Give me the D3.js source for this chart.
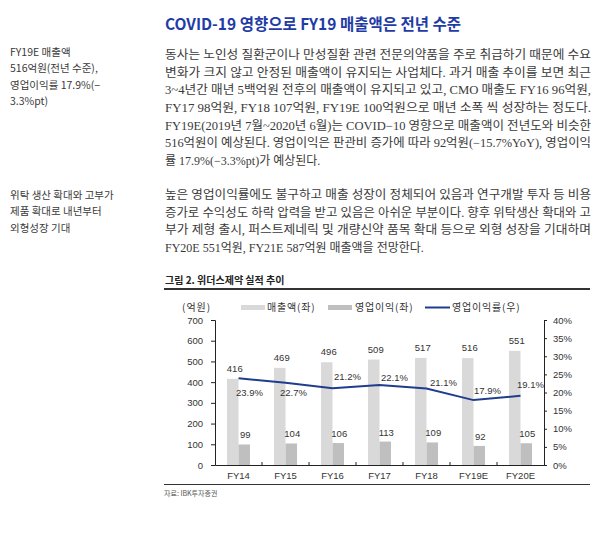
<!DOCTYPE html>
<html><head><meta charset="utf-8">
<script src="https://cdn.jsdelivr.net/npm/d3@7"></script>
<style>
html,body{margin:0;padding:0;background:#fff;}
svg{display:block;}
</style></head>
<body>
<script>
const categories = ["FY14","FY15","FY16","FY17","FY18","FY19E","FY20E"];
const revenue = [416,469,496,509,517,516,551];
const opIncome = [99,104,106,113,109,92,105];
const opMargin = [23.9,22.7,21.2,22.1,21.1,17.9,19.1];
const leftTicks = [0,100,200,300,400,500,600,700];
const rightTicks = [0,5,10,15,20,25,30,35,40];
const legendLabels = ["매출액(좌)","영업이익(좌)","영업이익률(우)"];

const headline = "COVID-19 영향으로 FY19 매출액은 전년 수준";
const sideNote1 = ["FY19E 매출액","516억원(전년 수준),","영업이익률 17.9%(−","3.3%pt)"];
const sideNote2 = ["위탁 생산 확대와 고부가","제품 확대로 내년부터","외형성장 기대"];
const para1 = [
 "동사는 노인성 질환군이나 만성질환 관련 전문의약품을 주로 취급하기 때문에 수요",
 "변화가 크지 않고 안정된 매출액이 유지되는 사업체다. 과거 매출 추이를 보면 최근",
 "3~4년간 매년 5백억원 전후의 매출액이 유지되고 있고, CMO 매출도 FY16 96억원,",
 "FY17 98억원, FY18 107억원, FY19E 100억원으로 매년 소폭 씩 성장하는 정도다.",
 "FY19E(2019년 7월~2020년 6월)는 COVID−10 영향으로 매출액이 전년도와 비슷한",
 "516억원이 예상된다. 영업이익은 판관비 증가에 따라 92억원(−15.7%YoY), 영업이익",
 "률 17.9%(−3.3%pt)가 예상된다."
];
const para2 = [
 "높은 영업이익률에도 불구하고 매출 성장이 정체되어 있음과 연구개발 투자 등 비용",
 "증가로 수익성도 하락 압력을 받고 있음은 아쉬운 부분이다. 향후 위탁생산 확대와 고",
 "부가 제형 출시, 퍼스트제네릭 및 개량신약 품목 확대 등으로 외형 성장을 기대하며",
 "FY20E 551억원, FY21E 587억원 매출액을 전망한다."
];
const chartTitle = "그림 2. 위더스제약 실적 추이";
const unitLabel = "(억원)";
const sourceLabel = "자료: IBK투자증권";

const W = 600, H = 542;
const svg = d3.select("body").append("svg").attr("width", W).attr("height", H);
const KR = "'Noto Sans CJK KR', sans-serif";
const BODY = "'Liberation Serif', 'Noto Sans CJK KR', serif";
const ARIAL = "'Liberation Sans', Arial, sans-serif";

// headline
svg.append("text").attr("x", 165).attr("y", 24).attr("dy", "0.35em")
  .attr("font-family", KR).attr("font-weight", "bold").attr("font-size", 16)
  .attr("fill", "#1f3ca6").attr("textLength", 296).attr("lengthAdjust", "spacingAndGlyphs")
  .text(headline);

// side notes
function sideBlock(lines, y0, step) {
  svg.append("g").selectAll("text").data(lines).join("text")
    .attr("x", 10).attr("y", (d, i) => y0 + i * step).attr("dy", "0.35em")
    .attr("font-family", KR).attr("font-size", 10.5).attr("fill", "#3a3a3a")
    .text(d => d);
}
sideBlock(sideNote1, 52, 16.5);
sideBlock(sideNote2, 195, 16.5);

// paragraphs (justified)
function para(lines, y0, step) {
  svg.append("g").selectAll("text").data(lines).join("text")
    .attr("x", 165).attr("y", (d, i) => y0 + i * step).attr("dy", "0.35em")
    .attr("font-family", BODY).attr("font-size", 12).attr("fill", "#3a3a3a")
    .each(function(d, i) {
      if (i < lines.length - 1) {
        d3.select(this).attr("textLength", 426).attr("lengthAdjust", "spacingAndGlyphs");
      }
    })
    .text(d => d);
}
para(para1, 55, 17.6);
para(para2, 195, 17.5);

// chart frame
svg.append("text").attr("x", 165).attr("y", 280).attr("dy", "0.35em")
  .attr("font-family", KR).attr("font-weight", "bold").attr("font-size", 10)
  .attr("fill", "#222").text(chartTitle);
svg.append("line").attr("x1", 164).attr("x2", 590).attr("y1", 289).attr("y2", 289)
  .attr("stroke", "#333").attr("stroke-width", 2);
svg.append("line").attr("x1", 164).attr("x2", 590).attr("y1", 484.5).attr("y2", 484.5)
  .attr("stroke", "#333").attr("stroke-width", 1);
svg.append("text").attr("x", 164).attr("y", 494).attr("dy", "0.35em")
  .attr("font-family", KR).attr("font-size", 7).attr("fill", "#555").text(sourceLabel);

// scales
const x = d3.scaleBand().domain(categories).range([215, 544]).padding(0);
const sub = d3.scaleBand().domain(["rev", "op"]).range([x.bandwidth() / 2 - 11.5, x.bandwidth() / 2 + 11.5]);
const yL = d3.scaleLinear().domain([0, 700]).range([465, 320]);
const yR = d3.scaleLinear().domain([0, 40]).range([465, 320]);

const revColor = "#d9d9d9", opColor = "#bfbfbf", lineColor = "#1f3d8c";

// bars
const g = svg.append("g");
g.selectAll("rect.rev").data(revenue).join("rect").attr("class", "rev")
  .attr("x", (d, i) => x(categories[i]) + sub("rev")).attr("width", sub.bandwidth())
  .attr("y", d => yL(d)).attr("height", d => yL(0) - yL(d)).attr("fill", revColor);
g.selectAll("rect.op").data(opIncome).join("rect").attr("class", "op")
  .attr("x", (d, i) => x(categories[i]) + sub("op")).attr("width", sub.bandwidth())
  .attr("y", d => yL(d)).attr("height", d => yL(0) - yL(d)).attr("fill", opColor);

// axes
const axL = svg.append("g").attr("transform", "translate(215,0)")
  .call(d3.axisLeft(yL).tickValues(leftTicks).tickSize(4).tickPadding(8).tickFormat(d3.format("d")));
const axR = svg.append("g").attr("transform", "translate(544,0)")
  .call(d3.axisRight(yR).tickValues(rightTicks).tickSize(3).tickPadding(6).tickFormat(d => d + "%"));
const axB = svg.append("g").attr("transform", "translate(0,465)")
  .call(d3.axisBottom(x).tickSize(0).tickPadding(7));
[axL, axR, axB].forEach(a => {
  a.selectAll("path.domain").attr("stroke", "#222");
  a.selectAll("line").attr("stroke", "#222");
  a.selectAll("text").attr("font-family", ARIAL).attr("font-size", 9.5).attr("fill", "#333");
});
// category boundary ticks
svg.append("g").selectAll("line").data(categories.slice(1)).join("line")
  .attr("x1", d => x(d)).attr("x2", d => x(d)).attr("y1", 465).attr("y2", 462)
  .attr("stroke", "#222");

// line
const line = d3.line().x((d, i) => x(categories[i]) + x.bandwidth() / 2).y(d => yR(d));
svg.append("path").datum(opMargin).attr("d", line).attr("fill", "none")
  .attr("stroke", lineColor).attr("stroke-width", 2);

// value labels
const lab = svg.append("g").attr("font-family", ARIAL).attr("font-size", 9.5).attr("fill", "#333").attr("text-anchor", "middle");
lab.selectAll("text.rv").data(revenue).join("text").attr("class", "rv")
  .attr("x", (d, i) => x(categories[i]) + sub("rev") + sub.bandwidth() / 2 + 2)
  .attr("y", d => yL(d) - 7).text(d => d);
lab.selectAll("text.op").data(opIncome).join("text").attr("class", "op")
  .attr("x", (d, i) => x(categories[i]) + sub("op") + sub.bandwidth() / 2 + 1)
  .attr("y", d => yL(d) - 6).text(d => d);
const marginNudge = [[11, 14], [8, 10], [15, -11], [15, -7], [17, -6], [14, -9], [10, -11]];
lab.selectAll("text.mg").data(opMargin).join("text").attr("class", "mg")
  .attr("x", (d, i) => x(categories[i]) + x.bandwidth() / 2 + marginNudge[i][0])
  .attr("y", (d, i) => yR(d) + marginNudge[i][1]).attr("dy", "0.35em")
  .text(d => d.toFixed(1) + "%");

// legend
const lg = svg.append("g").attr("font-family", KR).attr("font-size", 10).attr("fill", "#333");
lg.append("text").attr("x", 182).attr("y", 307).attr("dy", "0.35em").attr("letter-spacing", 1).text(unitLabel);
const legendItems = [
  {type: "rect", color: revColor, x: 241, tx: 267},
  {type: "rect", color: opColor, x: 328, tx: 355},
  {type: "line", color: lineColor, x: 425, tx: 452}
];
legendItems.forEach((it, i) => {
  if (it.type === "rect") {
    lg.append("rect").attr("x", it.x).attr("y", 305).attr("width", 24).attr("height", 5).attr("fill", it.color);
  } else {
    lg.append("line").attr("x1", it.x).attr("x2", it.x + 25).attr("y1", 307.5).attr("y2", 307.5)
      .attr("stroke", it.color).attr("stroke-width", 2);
  }
  lg.append("text").attr("x", it.tx).attr("y", 307).attr("dy", "0.35em").attr("letter-spacing", 0.8).text(legendLabels[i]);
});
</script>
</body></html>
